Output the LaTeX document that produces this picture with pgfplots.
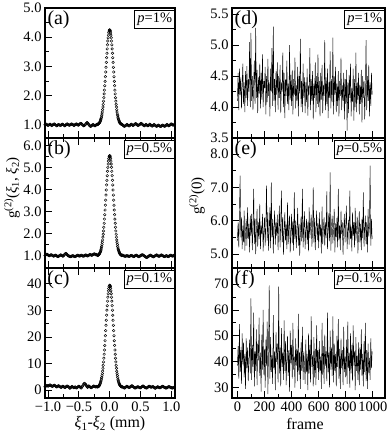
\documentclass[border=0pt]{standalone}
\usepackage{fontspec}
\setmainfont{Liberation Serif}
\usepackage{pgfplots}
\usepackage{pgfplotstable}
\pgfplotsset{compat=1.18}

% ---- left column: g2(xi1,xi2), one value every 0.01 mm from -1.05 to 1.05
\pgfplotstableread[row sep=\\]{g\\
1.00\\1.01\\1.02\\1.01\\0.99\\0.98\\0.99\\1.01\\1.02\\1.01\\
0.99\\0.98\\0.99\\1.00\\1.02\\1.03\\1.02\\1.00\\0.98\\0.97\\
0.98\\1.00\\1.01\\1.00\\0.99\\0.98\\0.99\\1.01\\1.02\\1.02\\
1.00\\0.98\\0.97\\0.98\\1.00\\1.02\\1.03\\1.02\\1.00\\0.99\\
0.99\\1.00\\1.02\\1.03\\1.02\\1.01\\0.99\\0.98\\0.99\\1.01\\
1.02\\1.03\\1.02\\1.00\\0.99\\1.00\\1.02\\1.04\\1.05\\1.04\\
1.02\\1.00\\0.98\\0.97\\0.98\\1.00\\1.03\\1.06\\1.08\\1.07\\
1.04\\1.01\\0.98\\0.96\\0.95\\0.96\\0.98\\1.00\\1.01\\1.00\\
0.98\\0.97\\0.98\\1.00\\1.01\\
1.01\\1.02\\1.04\\1.06\\1.09\\1.14\\1.21\\1.31\\1.44\\1.61\\
1.81\\2.06\\2.34\\2.65\\2.97\\3.30\\3.60\\3.87\\4.07\\4.21\\
4.25\\
4.21\\4.07\\3.87\\3.60\\3.30\\2.97\\2.65\\2.34\\2.06\\1.81\\
1.61\\1.44\\1.31\\1.21\\1.14\\1.09\\1.06\\1.04\\1.02\\1.01\\
1.00\\0.98\\0.96\\0.95\\0.96\\0.98\\1.00\\1.01\\1.00\\0.98\\
0.97\\0.97\\0.99\\1.01\\1.02\\1.01\\0.99\\0.98\\0.99\\1.01\\
1.03\\1.04\\1.03\\1.01\\0.99\\0.98\\0.99\\1.00\\1.02\\1.04\\
1.05\\1.04\\1.02\\1.00\\0.98\\0.97\\0.98\\1.00\\1.01\\1.00\\
0.98\\0.97\\0.98\\1.00\\1.02\\1.01\\0.99\\0.97\\0.96\\0.97\\
0.99\\1.01\\1.00\\0.98\\0.96\\0.95\\0.96\\0.98\\0.99\\0.98\\
0.96\\0.95\\0.95\\0.96\\0.98\\0.99\\0.98\\0.96\\0.95\\0.96\\
0.98\\1.00\\1.01\\1.00\\0.98\\0.97\\0.98\\1.00\\1.02\\1.03\\
1.02\\1.00\\0.99\\1.00\\1.01\\
}\tA
% half steps on the peak, -0.195 ... 0.195
\pgfplotstableread[row sep=\\]{g\\
1.02\\1.03\\1.05\\1.07\\1.12\\1.18\\1.26\\1.37\\1.52\\1.70\\
1.93\\2.19\\2.49\\2.81\\3.14\\3.45\\3.74\\3.98\\4.15\\4.24\\
4.24\\4.15\\3.98\\3.74\\3.45\\3.14\\2.81\\2.49\\2.19\\1.93\\
1.70\\1.52\\1.37\\1.26\\1.18\\1.12\\1.07\\1.05\\1.03\\1.02\\
}\hA

\pgfplotstableread[row sep=\\]{g\\
1.02\\1.04\\1.06\\1.07\\1.06\\1.04\\1.02\\1.01\\1.02\\1.04\\
1.05\\1.04\\1.02\\1.00\\0.99\\1.00\\1.02\\1.03\\1.02\\1.00\\
0.98\\0.97\\0.98\\1.00\\1.02\\1.04\\1.04\\1.02\\1.00\\0.99\\
1.00\\1.03\\1.07\\1.10\\1.11\\1.09\\1.05\\1.02\\1.00\\0.99\\
0.98\\0.97\\0.97\\0.98\\1.00\\1.01\\1.00\\0.98\\0.97\\0.97\\
0.98\\1.00\\1.02\\1.03\\1.02\\1.00\\0.99\\1.00\\1.02\\1.03\\
1.02\\1.00\\0.99\\0.99\\1.01\\1.03\\1.04\\1.03\\1.01\\1.00\\
1.01\\1.03\\1.05\\1.06\\1.05\\1.04\\1.03\\1.04\\1.06\\1.08\\
1.09\\1.08\\1.06\\1.05\\1.06\\
1.02\\1.03\\1.05\\1.08\\1.13\\1.20\\1.30\\1.43\\1.62\\1.85\\
2.13\\2.48\\2.87\\3.30\\3.76\\4.22\\4.64\\5.02\\5.30\\5.49\\
5.55\\
5.49\\5.30\\5.02\\4.64\\4.22\\3.76\\3.30\\2.87\\2.48\\2.13\\
1.85\\1.62\\1.43\\1.30\\1.20\\1.13\\1.08\\1.05\\1.03\\1.02\\
1.04\\1.02\\1.00\\0.99\\0.98\\0.99\\1.00\\1.01\\1.00\\0.99\\
0.98\\0.98\\0.99\\1.01\\1.02\\1.01\\1.00\\0.98\\0.97\\0.98\\
1.00\\1.02\\1.03\\1.02\\1.00\\0.98\\0.97\\0.97\\0.99\\1.01\\
1.03\\1.04\\1.05\\1.04\\1.02\\1.00\\0.98\\0.96\\0.94\\0.93\\
0.94\\0.96\\0.98\\1.00\\1.02\\1.03\\1.02\\1.00\\0.98\\0.97\\
0.96\\0.97\\0.99\\1.01\\1.03\\1.04\\1.03\\1.01\\0.99\\0.98\\
0.99\\1.01\\1.03\\1.04\\1.03\\1.01\\0.99\\0.98\\0.97\\0.98\\
1.00\\1.01\\1.00\\0.98\\0.97\\0.98\\1.00\\1.02\\1.03\\1.02\\
1.00\\0.99\\1.00\\1.02\\1.03\\
}\tB
\pgfplotstableread[row sep=\\]{g\\
1.02\\1.04\\1.06\\1.10\\1.16\\1.25\\1.36\\1.52\\1.72\\1.98\\
2.30\\2.67\\3.08\\3.53\\3.99\\4.43\\4.84\\5.17\\5.41\\5.53\\
5.53\\5.41\\5.17\\4.84\\4.43\\3.99\\3.53\\3.08\\2.67\\2.30\\
1.98\\1.72\\1.52\\1.36\\1.25\\1.16\\1.10\\1.06\\1.04\\1.02\\
}\hB

\pgfplotstableread[row sep=\\]{g\\
1.2\\1.4\\1.6\\1.7\\1.6\\1.5\\1.6\\1.8\\1.9\\1.8\\
1.6\\1.5\\1.4\\1.5\\1.7\\1.8\\1.7\\1.5\\1.3\\1.2\\
1.3\\1.5\\1.6\\1.5\\1.3\\1.1\\1.0\\1.1\\1.3\\1.4\\
1.3\\1.1\\1.0\\1.0\\1.2\\1.4\\1.5\\1.4\\1.2\\1.1\\
0.7\\0.8\\1.0\\1.2\\1.3\\1.2\\1.0\\0.9\\1.0\\1.2\\
0.9\\0.8\\0.9\\1.1\\1.3\\1.4\\1.3\\1.1\\0.9\\0.8\\
1.2\\1.5\\1.9\\2.3\\2.5\\2.4\\2.1\\1.7\\1.3\\1.0\\
1.4\\1.5\\1.4\\1.2\\1.0\\0.9\\1.0\\1.2\\1.4\\1.5\\
1.4\\1.3\\1.2\\1.2\\1.3\\
1.2\\1.3\\1.4\\1.7\\2.1\\2.7\\3.5\\4.7\\6.2\\8.2\\
10.6\\13.5\\16.8\\20.5\\24.4\\28.2\\31.8\\35.0\\37.4\\39.0\\
39.5\\
39.0\\37.4\\35.0\\31.8\\28.2\\24.4\\20.5\\16.8\\13.5\\10.6\\
8.2\\6.2\\4.7\\3.5\\2.7\\2.1\\1.7\\1.4\\1.3\\1.2\\
1.2\\1.0\\0.9\\0.8\\0.9\\1.1\\1.3\\1.4\\1.3\\1.1\\
1.0\\1.0\\1.1\\1.3\\1.5\\1.6\\1.5\\1.3\\1.1\\0.9\\
0.8\\0.8\\0.9\\1.1\\1.2\\1.2\\1.1\\1.0\\0.9\\0.9\\
1.0\\1.2\\1.4\\1.5\\1.4\\1.2\\1.0\\0.9\\0.8\\0.8\\
0.9\\1.1\\1.3\\1.4\\1.3\\1.2\\1.1\\1.1\\1.2\\1.3\\
1.2\\1.0\\0.8\\0.7\\0.8\\1.0\\1.1\\1.2\\1.1\\1.0\\
0.9\\0.9\\1.0\\1.2\\1.3\\1.4\\1.3\\1.1\\1.0\\0.9\\
0.8\\0.8\\0.9\\1.0\\1.2\\1.3\\1.2\\1.1\\1.0\\0.9\\
0.8\\0.8\\0.9\\1.0\\0.9\\
}\tC
\pgfplotstableread[row sep=\\]{g\\
1.2\\1.3\\1.5\\1.9\\2.4\\3.1\\4.1\\5.4\\7.1\\9.3\\
12.0\\15.1\\18.6\\22.4\\26.3\\30.1\\33.5\\36.3\\38.3\\39.4\\
39.4\\38.3\\36.3\\33.5\\30.1\\26.3\\22.4\\18.6\\15.1\\12.0\\
9.3\\7.1\\5.4\\4.1\\3.1\\2.4\\1.9\\1.5\\1.3\\1.2\\
}\hC

% ---- right column: g2(0) per frame, every 5th frame
\pgfplotstableread[row sep=\\]{g\\
4.10\\4.55\\3.95\\4.62\\4.20\\4.48\\3.98\\4.35\\4.70\\4.05\\4.40\\3.92\\4.58\\4.15\\4.66\\4.02\\4.45\\4.25\\5.05\\4.00\\
5.20\\4.10\\4.50\\3.95\\4.40\\4.75\\4.05\\5.28\\4.15\\4.60\\3.90\\4.48\\4.22\\4.70\\3.98\\4.55\\4.12\\4.85\\4.00\\4.42\\
4.30\\4.65\\3.88\\4.50\\4.08\\4.78\\4.18\\4.40\\3.85\\4.62\\4.25\\4.95\\4.02\\5.30\\4.10\\4.45\\3.92\\4.58\\4.20\\4.72\\
3.96\\4.50\\4.15\\4.68\\3.90\\4.40\\4.25\\4.88\\4.00\\4.55\\3.82\\4.45\\4.18\\4.75\\4.05\\4.38\\3.95\\5.00\\4.12\\4.52\\
4.02\\4.60\\3.88\\4.45\\4.20\\4.80\\3.98\\4.35\\4.10\\4.65\\3.85\\4.50\\4.22\\5.10\\4.00\\4.42\\3.92\\4.70\\4.15\\4.48\\
3.90\\4.40\\4.08\\4.62\\3.86\\4.35\\4.20\\4.95\\3.95\\4.45\\4.10\\4.58\\3.80\\4.38\\4.15\\4.72\\3.92\\4.50\\4.05\\4.85\\
4.00\\4.42\\3.85\\4.55\\4.12\\4.68\\3.90\\4.35\\4.18\\5.08\\3.95\\4.48\\4.05\\4.62\\3.82\\4.40\\4.15\\4.90\\3.98\\4.45\\
4.08\\5.12\\3.88\\4.50\\4.20\\4.65\\3.92\\4.38\\4.02\\4.58\\3.85\\4.42\\4.18\\4.80\\3.95\\4.35\\4.10\\4.55\\3.80\\4.45\\
4.05\\4.60\\3.62\\4.40\\3.90\\4.52\\4.15\\4.70\\3.85\\4.30\\4.08\\4.62\\3.78\\4.45\\4.00\\4.88\\3.92\\4.40\\4.12\\4.55\\
3.88\\4.35\\4.05\\4.60\\3.75\\4.50\\4.15\\4.42\\3.80\\4.25\\5.08\\3.95\\4.50\\4.10\\4.68\\3.85\\4.40\\4.02\\4.55\\4.20\\
}\tD

\pgfplotstableread[row sep=\\]{g\\
5.40\\5.95\\5.20\\6.25\\7.35\\5.50\\6.10\\5.15\\5.85\\5.35\\6.30\\5.10\\5.70\\6.05\\5.25\\6.40\\5.45\\5.90\\5.05\\6.15\\
5.55\\6.20\\5.12\\5.80\\6.95\\5.30\\6.05\\5.00\\5.75\\6.35\\5.22\\5.95\\5.45\\6.50\\5.15\\5.85\\5.60\\6.20\\5.08\\5.70\\
6.10\\5.25\\5.90\\7.05\\5.40\\6.25\\5.10\\5.80\\6.40\\5.18\\7.15\\5.50\\6.05\\5.02\\5.85\\6.30\\5.28\\5.95\\5.55\\6.18\\
5.12\\5.78\\6.45\\5.20\\5.92\\6.90\\5.35\\6.10\\4.98\\5.70\\6.25\\5.40\\5.88\\5.15\\6.55\\5.30\\5.82\\6.15\\5.05\\5.65\\
6.20\\5.32\\5.98\\5.10\\6.85\\5.45\\6.00\\5.18\\5.75\\6.38\\5.25\\5.90\\4.95\\5.62\\6.12\\5.38\\6.95\\5.20\\5.80\\6.28\\
5.15\\5.72\\6.05\\5.30\\5.95\\5.08\\6.40\\5.48\\5.85\\6.18\\5.22\\5.68\\7.00\\5.35\\6.08\\5.12\\5.78\\6.30\\5.42\\5.92\\
5.18\\6.25\\5.55\\5.88\\5.02\\6.42\\5.30\\5.80\\6.10\\5.25\\5.95\\5.48\\6.88\\5.15\\5.70\\6.22\\5.38\\7.45\\5.10\\5.85\\
6.15\\5.32\\5.78\\6.35\\5.05\\5.92\\5.50\\6.08\\5.20\\6.95\\5.42\\5.85\\5.12\\6.30\\5.60\\5.95\\4.98\\5.75\\6.20\\5.35\\
5.88\\6.45\\5.15\\5.70\\6.02\\5.28\\6.90\\5.45\\5.82\\5.08\\6.25\\5.55\\5.95\\5.20\\6.38\\5.40\\5.75\\6.12\\5.02\\5.68\\
6.28\\5.35\\5.90\\5.12\\6.05\\5.48\\6.85\\5.22\\5.78\\6.15\\5.30\\5.95\\5.05\\6.35\\5.52\\5.82\\7.65\\5.25\\6.05\\5.45\\
}\tE

\pgfplotstableread[row sep=\\]{g\\
38.5\\46.0\\33.5\\54.5\\36.0\\44.5\\31.5\\51.0\\39.0\\47.5\\34.0\\43.0\\29.5\\49.0\\37.5\\45.5\\32.5\\41.0\\48.5\\35.5\\
64.5\\33.0\\46.5\\38.0\\59.0\\30.5\\44.0\\36.5\\52.5\\31.0\\47.0\\40.5\\57.0\\34.5\\43.5\\28.5\\50.5\\37.0\\60.0\\35.0\\
45.0\\30.0\\48.5\\38.5\\55.5\\27.5\\46.0\\69.5\\33.5\\49.5\\36.0\\42.5\\31.5\\58.0\\37.5\\44.0\\29.0\\51.5\\40.0\\47.0\\
32.0\\69.0\\35.5\\45.5\\30.5\\53.0\\38.0\\43.5\\33.0\\56.0\\36.5\\48.0\\31.0\\41.5\\50.0\\34.5\\44.5\\28.5\\52.0\\39.5\\
46.5\\33.5\\55.0\\37.0\\42.0\\30.0\\49.0\\38.5\\45.0\\32.5\\58.5\\35.0\\43.5\\29.5\\47.5\\36.5\\53.5\\33.0\\44.0\\39.0\\
31.5\\48.5\\36.0\\43.0\\29.0\\51.0\\35.5\\46.5\\32.0\\57.5\\38.0\\42.5\\30.5\\49.5\\34.0\\45.0\\31.0\\54.0\\37.5\\44.5\\
33.0\\48.0\\36.5\\42.0\\29.5\\55.0\\35.0\\46.0\\31.5\\50.5\\38.5\\44.0\\32.5\\59.0\\36.0\\43.5\\30.0\\52.0\\37.0\\45.5\\
34.5\\57.5\\32.0\\47.0\\36.5\\43.0\\30.5\\50.0\\38.0\\56.5\\33.5\\45.0\\29.5\\49.0\\37.5\\44.5\\31.0\\53.5\\36.0\\42.0\\
34.0\\48.5\\31.5\\55.5\\37.5\\43.5\\30.0\\51.0\\35.5\\46.5\\32.5\\54.0\\38.5\\44.0\\29.0\\49.5\\36.5\\42.5\\33.0\\47.5\\
31.0\\45.5\\37.0\\52.5\\34.5\\43.0\\30.5\\48.0\\36.0\\55.0\\32.5\\44.5\\29.5\\47.0\\35.5\\41.5\\33.0\\49.0\\37.5\\44.0\\
}\tF

\pgfplotsset{
  panel/.style={scale only axis, height=130bp,
    axis line style={line width=1.2bp},
    tick style={black, line width=0.9bp},
    major tick length=7bp, minor tick length=4bp, tick align=inside,
    ytick pos=left, minor x tick num=1, minor y tick num=1,
    ticklabel style={font=\fontsize{14.5}{14.5}\selectfont},
    xticklabels={}},
  lpanel/.style={panel, width=130bp, xmin=-1.05, xmax=1.06, xtick={-1,-0.5,0,0.5,1}},
  rpanel/.style={panel, width=153bp, xmin=-40, xmax=1090, xtick={0,200,...,1000}},
  corr/.style={black, only marks, mark=o, mark size=1.3bp, mark options={line width=0.45bp}},
  trace/.style={black, line width=0.45bp, mark=none},
}
\tikzset{
  tag/.style={anchor=north west, inner sep=1bp, font=\fontsize{20}{20}\selectfont},
  pbox/.style={draw, line width=0.9bp, anchor=north east, inner sep=2.5bp, yshift=-2bp,
    fill=white, font=\fontsize{14.5}{14.5}\selectfont},
}

\begin{document}
\begin{tikzpicture}
\useasboundingbox (0bp,0bp) rectangle (389bp,-437bp);

% (a)
\begin{axis}[lpanel, at={(45bp,-8bp)}, anchor=north west, xtick pos=lower,
  ymin=0.55, ymax=5.0, ytick={1,2,3,4,5}, yticklabels={1.0,2.0,3.0,4.0,5.0}]
  \addplot[corr] table[x expr=\coordindex*0.01-1.05, y index=0] \tA;
  \addplot[corr] table[x expr=\coordindex*0.01-0.195, y index=0] \hA;
  \node[tag] at (rel axis cs:0.01,0.99) {(a)};
  \node[pbox] at (rel axis cs:1,1) {\textit{p}=1\%};
\end{axis}

% (b)
\begin{axis}[lpanel, at={(45bp,-138bp)}, anchor=north west, xtick pos=both,
  ymin=0.45, ymax=6.35, ytick={1,2,3,4,5,6}, yticklabels={1.0,2.0,3.0,4.0,5.0,6.0}]
  \addplot[corr] table[x expr=\coordindex*0.01-1.05, y index=0] \tB;
  \addplot[corr] table[x expr=\coordindex*0.01-0.195, y index=0] \hB;
  \node[tag] at (rel axis cs:0.01,0.99) {(b)};
  \node[pbox] at (rel axis cs:1,1) {\textit{p}=0.5\%};
\end{axis}

% (c)
\begin{axis}[lpanel, at={(45bp,-268bp)}, anchor=north west, xtick pos=both, xticklabel pos=lower,
  xticklabels={−1.0,−0.5,0.0,0.5,1.0},
  ymin=-3, ymax=46, ytick={0,10,20,30,40}, yticklabels={0,10,20,30,40}]
  \addplot[corr] table[x expr=\coordindex*0.01-1.05, y index=0] \tC;
  \addplot[corr] table[x expr=\coordindex*0.01-0.195, y index=0] \hC;
  \node[tag] at (rel axis cs:0.01,0.99) {(c)};
  \node[pbox] at (rel axis cs:1,1) {\textit{p}=0.1\%};
\end{axis}

% (d)
\begin{axis}[rpanel, at={(232bp,-8bp)}, anchor=north west, xtick pos=lower,
  ymin=3.5, ymax=5.6, ytick={3.5,4,4.5,5,5.5}, yticklabels={3.5,4.0,4.5,5.0,5.5}]
  \addplot[trace] table[x expr=\coordindex*5, y index=0] \tD;
  \node[tag] at (rel axis cs:0.01,0.99) {(d)};
  \node[pbox] at (rel axis cs:1,1) {\textit{p}=1\%};
\end{axis}

% (e)
\begin{axis}[rpanel, at={(232bp,-138bp)}, anchor=north west, xtick pos=both,
  ymin=4.58, ymax=8.48, ytick={5,6,7,8}, yticklabels={5.0,6.0,7.0,8.0}]
  \addplot[trace] table[x expr=\coordindex*5, y index=0] \tE;
  \node[tag] at (rel axis cs:0.01,0.99) {(e)};
  \node[pbox] at (rel axis cs:1,1) {\textit{p}=0.5\%};
\end{axis}

% (f)
\begin{axis}[rpanel, at={(232bp,-268bp)}, anchor=north west, xtick pos=both, xticklabel pos=lower,
  xticklabels={0,200,400,600,800,1000},
  ymin=26, ymax=76.2, ytick={30,40,50,60,70}, yticklabels={30,40,50,60,70}]
  \addplot[trace] table[x expr=\coordindex*5, y index=0] \tF;
  \node[tag] at (rel axis cs:0.01,0.99) {(f)};
  \node[pbox] at (rel axis cs:1,1) {\textit{p}=0.1\%};
\end{axis}

\node[rotate=90, font=\fontsize{15}{15}\selectfont] at (12bp,-188bp)
  {g\textsuperscript{(2)}(\textit{ξ}\textsubscript{1}, \textit{ξ}\textsubscript{2})};
\node[rotate=90, font=\fontsize{15}{15}\selectfont] at (197bp,-196bp) {g\textsuperscript{(2)}(0)};
\node[font=\fontsize{16}{16}\selectfont] at (110bp,-424bp)
  {\textit{ξ}\textsubscript{1}-\textit{ξ}\textsubscript{2} (mm)};
\node[font=\fontsize{16}{16}\selectfont] at (305bp,-424bp) {frame};
\end{tikzpicture}
\end{document}
